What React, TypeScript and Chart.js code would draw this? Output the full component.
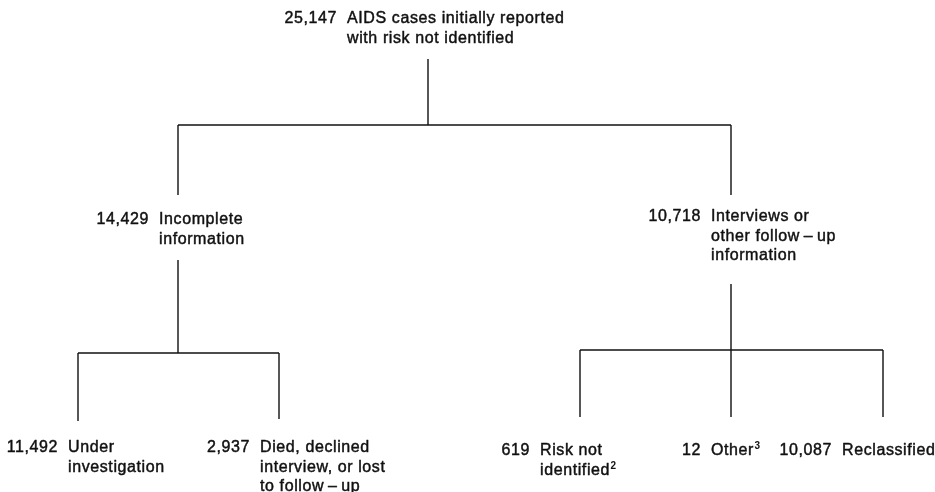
import { useEffect, useRef } from "react";
import { Chart, registerables } from "chart.js";

Chart.register(...registerables);

// ---- data ----
const nodeCounts = [25147, 14429, 10718, 11492, 2937, 619, 12, 10087];
const nodeLabels: string[][] = [
  ["AIDS cases initially reported", "with risk not identified"],
  ["Incomplete", "information"],
  ["Interviews or", "other follow\u2009\u2013\u2009up", "information"],
  ["Under", "investigation"],
  ["Died, declined", "interview, or lost", "to follow\u2009\u2013\u2009up"],
  ["Risk not", "identified"],
  ["Other"],
  ["Reclassified"],
];
const nodeNotes = ["", "", "", "", "", "2", "3", ""];
const nodeParents = [-1, 0, 0, 1, 1, 2, 2, 2];

// ---- layout (canvas units, drawn through scales) ----
const stemX = [428, 178, 731, 78, 279, 580, 731, 883];
const labelX = [347, 159, 711, 68, 260, 540, 711, 842];
const labelBaseY = [23, 224, 221, 452, 452, 455, 455, 455];
const stemTopY = [0, 195, 195, 421, 419, 417, 417, 417];
const childStemY = [59, 260, 284, 0, 0, 0, 0, 0];
const childBarY = [125, 353, 350, 0, 0, 0, 0, 0];

const W = 935;
const H = 492;
const FONT = '"Liberation Sans", Arial, Helvetica, sans-serif';
const LINE_H = 19.5;
const INK = "#111111";

function buildSegments() {
  const segs: { x: number; y: number }[][] = [];
  nodeCounts.forEach((_, i) => {
    const kids = nodeParents.map((p, j) => (p === i ? j : -1)).filter((j) => j >= 0);
    if (!kids.length) return;
    const by = childBarY[i];
    segs.push([{ x: stemX[i], y: childStemY[i] }, { x: stemX[i], y: by }]);
    const xs = kids.map((k) => stemX[k]);
    segs.push([{ x: Math.min(...xs), y: by }, { x: Math.max(...xs), y: by }]);
    kids.forEach((k) => {
      segs.push([{ x: stemX[k], y: by }, { x: stemX[k], y: stemTopY[k] }]);
    });
  });
  return segs;
}

function inkText(ctx: CanvasRenderingContext2D, s: string, x: number, y: number) {
  ctx.fillText(s, x, y);
  ctx.strokeText(s, x, y);
}

const textPlugin = {
  id: "treeText",
  afterDraw(chart: any) {
    const ctx = chart.ctx as CanvasRenderingContext2D;
    const sx = chart.scales.x;
    const sy = chart.scales.y;
    ctx.save();
    ctx.fillStyle = INK;
    ctx.strokeStyle = INK;
    ctx.lineWidth = 0.45;
    ctx.lineJoin = "round";
    ctx.textBaseline = "alphabetic";
    (ctx as any).letterSpacing = "0.6px";
    nodeCounts.forEach((v, i) => {
      const lx = sx.getPixelForValue(labelX[i]);
      const nx = sx.getPixelForValue(labelX[i] - 10);
      const by = sy.getPixelForValue(labelBaseY[i]);
      ctx.font = `16px ${FONT}`;
      ctx.textAlign = "right";
      inkText(ctx, v.toLocaleString("en-US"), nx, by);
      ctx.textAlign = "left";
      const lines = nodeLabels[i];
      lines.forEach((ln, k) => {
        const y = by + k * LINE_H;
        ctx.font = `16px ${FONT}`;
        inkText(ctx, ln, lx, y);
        if (k === lines.length - 1 && nodeNotes[i]) {
          const w = ctx.measureText(ln).width;
          ctx.font = `bold 10px ${FONT}`;
          ctx.fillText(nodeNotes[i], lx + w + 0.5, y - 6);
        }
      });
    });
    ctx.restore();
  },
};

export default function App() {
  const ref = useRef<HTMLCanvasElement>(null);
  useEffect(() => {
    document.body.style.margin = "0";
    document.body.style.background = "#fff";
    const segs = buildSegments();
    const chart = new Chart(ref.current as HTMLCanvasElement, {
      type: "scatter",
      data: {
        datasets: segs.map((s) => ({
          data: s,
          showLine: true,
          pointRadius: 0,
          borderColor: INK,
          borderWidth: 1.4,
          fill: false,
        })),
      },
      options: {
        responsive: false,
        animation: false,
        layout: { padding: 0 },
        scales: {
          x: { type: "linear", min: 0, max: W, display: false },
          y: { type: "linear", min: 0, max: H, reverse: true, display: false },
        },
        plugins: { legend: { display: false }, tooltip: { enabled: false } },
      },
      plugins: [textPlugin],
    });
    return () => chart.destroy();
  }, []);
  return <canvas ref={ref} width={W} height={H} style={{ display: "block" }} />;
}
